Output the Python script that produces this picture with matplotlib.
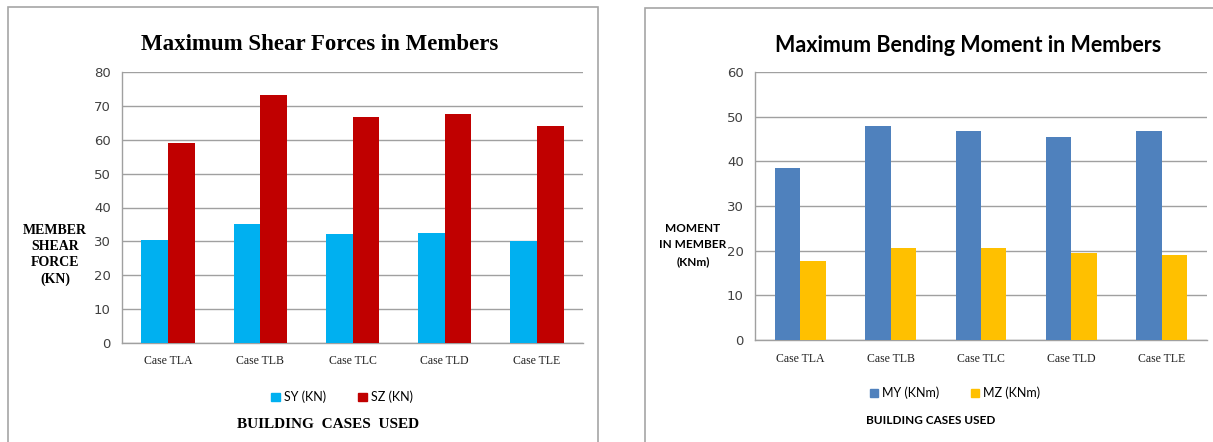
import numpy as np
import matplotlib
matplotlib.use("Agg")
import matplotlib.pyplot as plt
from matplotlib.patches import Rectangle

cases = ["Case TLA", "Case TLB", "Case TLC", "Case TLD", "Case TLE"]
sy = [30.4, 35.1, 32.2, 32.6, 30.0]
sz = [59.1, 73.3, 66.8, 67.5, 64.2]
my = [38.4, 47.8, 46.7, 45.4, 46.7]
mz = [17.7, 20.5, 20.5, 19.4, 19.1]

W, H = 1213, 442
fig = plt.figure(figsize=(W / 100, H / 100), dpi=100)

def px(x0, y0, x1, y1):
    "pixel box -> figure rect"
    return [x0 / W, 1 - y1 / H, (x1 - x0) / W, (y1 - y0) / H]

# panel borders
for (x0, y0, x1) in [(8, 7, 598), (645, 8, 1230)]:
    fig.patches.append(Rectangle((x0 / W, -0.05), (x1 - x0) / W, 1 - y0 / H + 0.05,
                                 transform=fig.transFigure, fill=False,
                                 edgecolor="#a6a6a6", linewidth=1.2))

def bars(ax, a, b, ca, cb, ymax, w):
    x = np.arange(len(cases))
    ax.bar(x - w / 2, a, w, color=ca, zorder=3)
    ax.bar(x + w / 2, b, w, color=cb, zorder=3)
    ax.set_xlim(-0.5, len(cases) - 0.5)
    ax.set_ylim(0, ymax)
    ax.set_yticks(range(0, ymax + 1, 10))
    ax.set_xticks(x)
    ax.grid(axis="y", color="#a0a0a0", linewidth=1, zorder=0)
    for s in ["top", "right"]:
        ax.spines[s].set_visible(False)
    for s in ["left", "bottom"]:
        ax.spines[s].set_color("#a0a0a0")
        ax.spines[s].set_linewidth(1)
    ax.tick_params(length=0, pad=8, labelsize=9.5, labelcolor="#404040")
    ax.set_xticklabels(cases, family="Liberation Serif", fontsize=8.5, color="#202020")
    ax.tick_params(axis="x", pad=9)

# left chart
ax1 = fig.add_axes(px(122, 72, 583, 343))
bars(ax1, sy, sz, "#00B0F0", "#C00000", 80, 0.29)
fig.text(320 / W, 1 - 45 / H, "Maximum Shear Forces in Members", ha="center", va="center",
         family="Liberation Serif", fontweight="bold", fontsize=16.5)
fig.text(55 / W, 1 - 255 / H, "MEMBER\nSHEAR\nFORCE\n(KN)", ha="center", va="center",
         family="Liberation Serif", fontweight="bold", fontsize=10, linespacing=1.3)
fig.text(328 / W, 1 - 425 / H, "BUILDING  CASES  USED", ha="center", va="center",
         family="Liberation Serif", fontweight="bold", fontsize=11)
h1 = [Rectangle((0, 0), 1, 1, color=c) for c in ["#00B0F0", "#C00000"]]
fig.legend(h1, ["SY (KN)", "SZ (KN)"], loc="center", bbox_to_anchor=(342 / W, 1 - 397 / H),
           ncol=2, frameon=False, handlelength=0.7, handleheight=0.7,
           handletextpad=0.3, columnspacing=2.6, prop={"family": "Lato", "size": 9})

# right chart
ax2 = fig.add_axes(px(755, 72, 1207, 340))
bars(ax2, my, mz, "#4F81BD", "#FFC000", 60, 0.28)
fig.text(968 / W, 1 - 46 / H, "Maximum Bending Moment in Members", ha="center", va="center",
         family="Lato", fontweight="bold", fontsize=15.5)
fig.text(693 / W, 1 - 245 / H, "MOMENT\nIN MEMBER\n(KNm)", ha="center", va="center",
         family="Lato", fontweight="bold", fontsize=8.5, linespacing=1.6)
fig.text(931 / W, 1 - 421 / H, "BUILDING CASES USED", ha="center", va="center",
         family="Lato", fontweight="bold", fontsize=8.5)
h2 = [Rectangle((0, 0), 1, 1, color=c) for c in ["#4F81BD", "#FFC000"]]
fig.legend(h2, ["MY (KNm)", "MZ (KNm)"], loc="center", bbox_to_anchor=(955 / W, 1 - 393 / H),
           ncol=2, frameon=False, handlelength=0.7, handleheight=0.7,
           handletextpad=0.3, columnspacing=2.5, prop={"family": "Lato", "size": 9})

fig.savefig("out.png", dpi=100)
